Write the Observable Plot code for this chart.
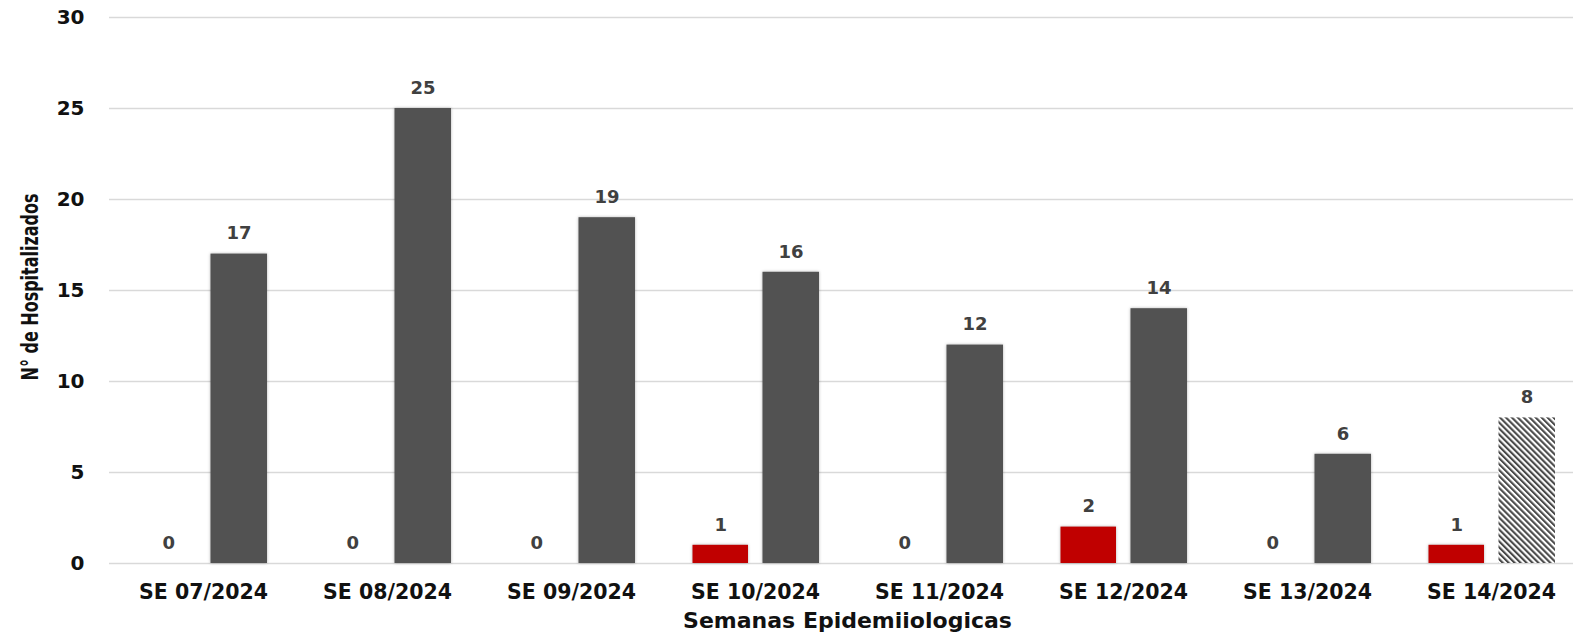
<!DOCTYPE html>
<html><head><meta charset="utf-8">
<script src="https://cdn.jsdelivr.net/npm/d3@7"></script>
<script src="https://cdn.jsdelivr.net/npm/@observablehq/plot@0.6"></script>
<style>html,body{margin:0;padding:0;background:#fff;overflow:hidden;width:1573px;height:643px}
#chart svg{max-width:none !important;display:block}
#chart .barras rect{filter:drop-shadow(0px 0px 1.5px rgba(0,0,0,0.3))}
#chart .tituloY text{font-stretch:condensed}</style>
</head><body><div id="chart"></div>
<script>
const semanas = ["SE 07/2024","SE 08/2024","SE 09/2024","SE 10/2024","SE 11/2024","SE 12/2024","SE 13/2024","SE 14/2024"];
const serieRoja = [0,0,0,1,0,2,0,1];
const serieGris = [17,25,19,16,12,14,6,8];
const yTicks = [0,5,10,15,20,25,30];
const tituloX = "Semanas Epidemiiologicas";
const tituloY = "N° de Hospitalizados";

const data = semanas.map((s,i)=>({semana:s, rojo:serieRoja[i], gris:serieGris[i], parcial: i === semanas.length-1}));

const chart = Plot.plot({
  width:1585, height:643,
  marginLeft:109, marginRight:0, marginTop:17, marginBottom:80,
  style:{fontFamily:"DejaVu Sans", background:"#fff", overflow:"visible", maxWidth:"none"},
  x:{domain:semanas, padding:0},
  y:{domain:[0,30]},
  marks:[
    Plot.gridY(yTicks, {stroke:"#d9d9d9", strokeOpacity:1, strokeWidth:1.5}),
    Plot.axisY({ticks:yTicks, tickSize:0, tickPadding:25, fontSize:20, fontWeight:"bold", fill:"#111", label:null}),
    Plot.axisX({tickSize:0, tickPadding:21, fontSize:20.5, fontWeight:"bold", fill:"#111", label:null}),
    Plot.barY(data, {x:"semana", y:"rojo", fill:"#C00000", insetLeft:29.5, insetRight:99, className:"barras"}),
    Plot.barY(data, {filter:d=>!d.parcial, x:"semana", y:"gris", fill:"#525252", insetLeft:99.5, insetRight:28, className:"barras"}),
    Plot.barY(data, {filter:d=>d.parcial, x:"semana", y:"gris", fill:"url(#hatch)", insetLeft:99.5, insetRight:28}),
    Plot.text(data, {x:"semana", y:"rojo", text:d=>String(d.rojo), dx:-34.75, dy:-20.5, fontSize:18, fontWeight:"bold", fill:"#404040"}),
    Plot.text(data, {x:"semana", y:"gris", text:d=>String(d.gris), dx:35.5, dy:-20.5, fontSize:18, fontWeight:"bold", fill:"#404040"}),
    Plot.text([tituloX], {frameAnchor:"bottom", dy:64, fontSize:22, fontWeight:"bold", fill:"#111"}),
    Plot.text([tituloY], {frameAnchor:"left", textAnchor:"middle", dx:-79, dy:-3.5, rotate:-90, fontSize:23, fontWeight:"bold", fontFamily:"DejaVu Sans", fill:"#111", className:"tituloY"})
  ]
});
d3.select(chart).insert("defs", ":first-child").html(
  '<pattern id="hatch" patternUnits="userSpaceOnUse" width="4.2" height="4.2" patternTransform="rotate(-45)">' +
  '<rect width="4.2" height="4.2" fill="#fff"/><rect width="2.1" height="4.2" fill="#4a4a4a"/></pattern>');
d3.select(chart).selectAll(".tituloY text").attr("textLength", 187).attr("lengthAdjust", "spacingAndGlyphs");
document.getElementById("chart").appendChild(chart);
</script>
</body></html>
